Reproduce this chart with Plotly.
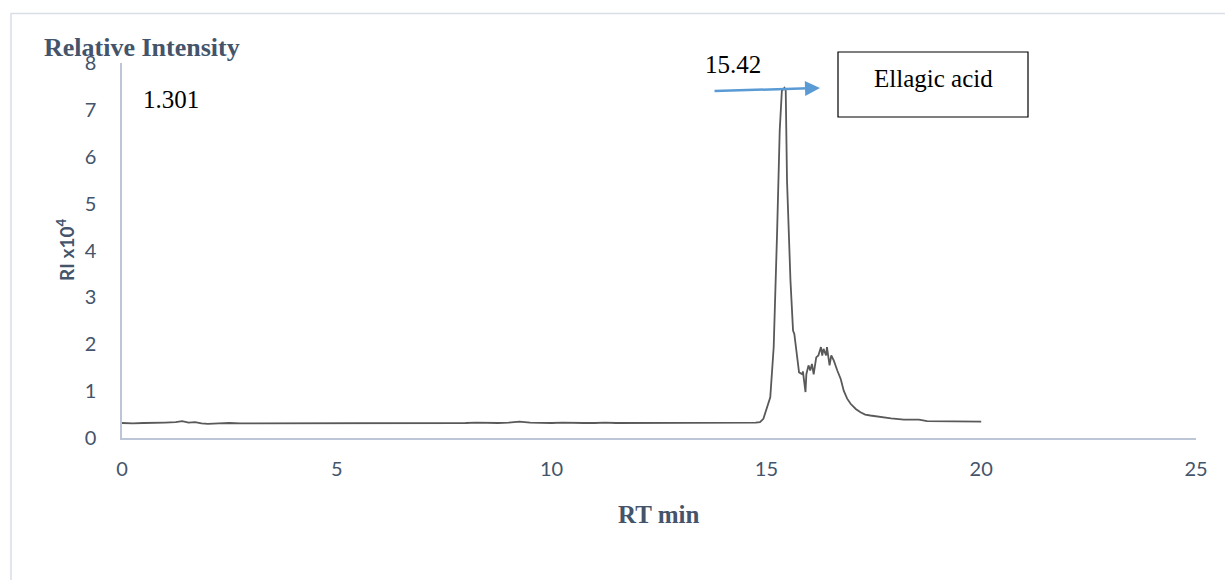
import plotly.graph_objects as go

# Chromatogram: retention time (min) vs relative intensity (x10^4)
rt_min = [
    0.00, 0.25, 0.50, 0.75, 1.00, 1.25, 1.40, 1.55, 1.70, 1.85,
    2.00, 2.25, 2.50, 2.75, 3.00, 3.25, 3.50, 3.75, 4.00, 4.25,
    4.50, 4.75, 5.00, 5.25, 5.50, 5.75, 6.00, 6.25, 6.50, 6.75,
    7.00, 7.25, 7.50, 7.75, 8.00, 8.25, 8.50, 8.75, 9.00, 9.25,
    9.50, 9.75, 10.00, 10.25, 10.50, 10.75, 11.00, 11.25, 11.50, 11.75,
    12.00, 12.25, 12.50, 12.75, 13.00, 13.25, 13.50, 13.75, 14.00, 14.25,
    14.50, 14.75, 14.85, 14.93, 15.09, 15.17, 15.25, 15.31, 15.36, 15.42,
    15.45, 15.48, 15.56, 15.62, 15.65, 15.70, 15.76, 15.84, 15.85, 15.91,
    15.93, 15.98, 16.02, 16.06, 16.10, 16.16, 16.21, 16.27, 16.30, 16.33,
    16.39, 16.41, 16.45, 16.47, 16.51, 16.57, 16.65, 16.73, 16.80, 16.88,
    16.96, 17.08, 17.19, 17.30, 17.42, 17.55, 17.73, 17.90, 18.20, 18.45,
    18.55, 18.74, 19.00, 19.29, 19.60, 20.00,
]
ri_e4 = [
    0.32, 0.31, 0.32, 0.32, 0.33, 0.34, 0.36, 0.33, 0.34, 0.31,
    0.30, 0.31, 0.32, 0.31, 0.31, 0.32, 0.31, 0.31, 0.32, 0.31,
    0.31, 0.32, 0.31, 0.31, 0.32, 0.31, 0.31, 0.32, 0.31, 0.32,
    0.32, 0.31, 0.32, 0.32, 0.32, 0.33, 0.32, 0.32, 0.33, 0.35,
    0.33, 0.32, 0.32, 0.33, 0.32, 0.32, 0.32, 0.33, 0.32, 0.32,
    0.32, 0.32, 0.32, 0.33, 0.32, 0.32, 0.32, 0.32, 0.32, 0.32,
    0.32, 0.33, 0.34, 0.41, 0.87, 1.94, 4.42, 6.56, 7.41, 7.47,
    7.41, 5.49, 3.36, 2.29, 2.22, 1.80, 1.40, 1.36, 1.42, 0.98,
    1.36, 1.55, 1.44, 1.58, 1.36, 1.72, 1.76, 1.94, 1.76, 1.90,
    1.76, 1.94, 1.65, 1.55, 1.76, 1.65, 1.44, 1.26, 1.01, 0.84,
    0.73, 0.62, 0.55, 0.50, 0.48, 0.46, 0.43, 0.42, 0.39, 0.38,
    0.39, 0.36, 0.36, 0.35, 0.35, 0.35,
]

x_ticks = [0, 5, 10, 15, 20, 25]
y_ticks = [0, 1, 2, 3, 4, 5, 6, 7, 8]

peak_rt_label = "15.42"
start_label = "1.301"
compound_name = "Ellagic acid"

# Plot-area geometry in page pixels
W, H = 1225, 580
L, R, T, B = 122, 1196, 63, 438


def px(xpix):
    return (xpix - L) / (R - L)


def py(ypix):
    return (B - ypix) / (B - T)


AXIS_COLOR = "#BCC6D6"
TEXT_COLOR = "#44546A"
SERIF = "Liberation Serif, Times New Roman, serif"
SANS = "Lato, Carlito, Calibri, sans-serif"

fig = go.Figure()
fig.add_trace(go.Scatter(
    x=rt_min, y=ri_e4, mode="lines",
    line=dict(color="#595959", width=1.8),
    showlegend=False, hoverinfo="x+y",
))

fig.update_layout(
    width=W, height=H,
    margin=dict(l=L, r=W - R, t=T, b=H - B, pad=0),
    paper_bgcolor="white", plot_bgcolor="white",
    xaxis=dict(
        range=[0, 25], tickvals=x_ticks, showgrid=False, zeroline=False,
        showline=True, linecolor=AXIS_COLOR, linewidth=1.5,
        ticks="outside", ticklen=12, tickcolor="rgba(0,0,0,0)",
        tickfont=dict(family=SANS, size=20, color=TEXT_COLOR),
    ),
    yaxis=dict(
        range=[0, 8], tickvals=y_ticks, showgrid=False, zeroline=False,
        showline=True, linecolor=AXIS_COLOR, linewidth=1.5,
        ticks="outside", ticklen=20, tickcolor="rgba(0,0,0,0)",
        tickfont=dict(family=SANS, size=20, color=TEXT_COLOR),
    ),
)

# Outer chart border (top and left edges visible)
fig.add_shape(type="rect", xref="paper", yref="paper",
              x0=px(11), x1=px(1240), y0=py(600), y1=py(13.5),
              line=dict(color="#D9DEE6", width=1.5), fillcolor="rgba(0,0,0,0)",
              layer="below")

# Box around the compound name
fig.add_shape(type="rect", xref="paper", yref="paper",
              x0=px(838), x1=px(1028), y0=py(117), y1=py(52),
              line=dict(color="black", width=1.2), fillcolor="white")

annotations = [
    dict(text="<b>Relative Intensity</b>", x=px(142), y=py(48),
         font=dict(family=SERIF, size=26, color=TEXT_COLOR)),
    dict(text="<b>RI x10<sup>4</sup></b>", x=px(65), y=py(250), textangle=-90,
         font=dict(family=SANS, size=19, color=TEXT_COLOR)),
    dict(text="<b>RT min</b>", x=px(658), y=py(514),
         font=dict(family=SERIF, size=25, color=TEXT_COLOR)),
    dict(text=start_label, x=px(171), y=py(99),
         font=dict(family=SERIF, size=25, color="black")),
    dict(text=peak_rt_label, x=px(733), y=py(65),
         font=dict(family=SERIF, size=25, color="black")),
    dict(text=compound_name, x=px(933), y=py(78),
         font=dict(family=SERIF, size=25, color="black")),
]
for a in annotations:
    fig.add_annotation(xref="paper", yref="paper", showarrow=False,
                       xanchor="center", yanchor="middle", **a)

# Blue arrow pointing from the peak label towards the compound box
fig.add_annotation(xref="paper", yref="paper", x=px(820), y=py(88),
                   ax=713 - 820, ay=91 - 88, text="", showarrow=True,
                   arrowhead=2, arrowsize=1.2, arrowwidth=2.5,
                   arrowcolor="#5B9BD5", standoff=0, startstandoff=0)

fig.write_html("out.html")
